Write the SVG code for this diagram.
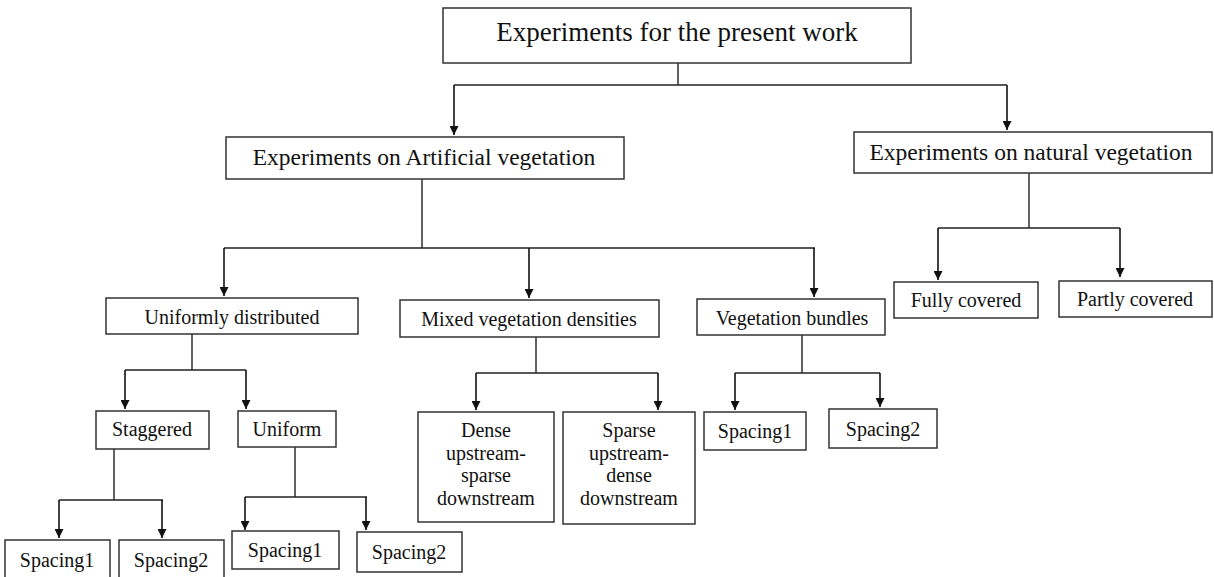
<svg xmlns="http://www.w3.org/2000/svg" width="1214" height="577" viewBox="0 0 1214 577">
<style>
.box{fill:#fff;stroke:#333;stroke-width:1.5}
.ln{fill:none;stroke:#222;stroke-width:1.4}
.ar{fill:none;stroke:#111;stroke-width:1.6;marker-end:url(#ah)}
text{font-family:"Liberation Serif","Times New Roman",serif;fill:#111;text-anchor:middle}
.t0{font-size:27px}
.t1{font-size:23.5px}
.t2{font-size:20px}
</style>
<defs>
<marker id="ah" viewBox="0 0 10 10" refX="10" refY="5" markerUnits="userSpaceOnUse" markerWidth="10" markerHeight="9" orient="auto">
<path d="M0,0 L10,5 L0,10 z" fill="#111"/>
</marker>
</defs>
<rect width="1214" height="577" fill="#fff"/>
<g id="connectors">
<path class="ln" d="M678,63 V85 M454,85 H1007"/>
<path class="ar" d="M454,85 V135"/>
<path class="ar" d="M1007,85 V130"/>
<path class="ln" d="M422,179 V248 M224,248 H815"/>
<path class="ar" d="M224,248 V296"/>
<path class="ar" d="M529,248 V298"/>
<path class="ar" d="M814,248 V297"/>
<path class="ln" d="M1029,173 V228 M938,228 H1120"/>
<path class="ar" d="M938,228 V280"/>
<path class="ar" d="M1120,228 V277"/>
<path class="ln" d="M192,334 V370 M125,370 H246"/>
<path class="ar" d="M125,370 V409"/>
<path class="ar" d="M246,370 V409"/>
<path class="ln" d="M536,337 V373 M476,373 H658"/>
<path class="ar" d="M476,373 V410"/>
<path class="ar" d="M658,373 V410"/>
<path class="ln" d="M802,335 V373 M735,373 H880"/>
<path class="ar" d="M735,373 V410"/>
<path class="ar" d="M880,373 V407"/>
<path class="ln" d="M114,449 V500 M59,500 H163"/>
<path class="ar" d="M59,500 V538"/>
<path class="ar" d="M162,500 V538"/>
<path class="ln" d="M295,447 V497 M245,497 H367"/>
<path class="ar" d="M245,497 V530"/>
<path class="ar" d="M366,497 V530"/>
</g>
<g id="n-top"><rect class="box" x="443" y="8" width="468" height="55"/><text class="t0" x="677" y="41">Experiments for the present work</text></g>
<g id="n-artificial"><rect class="box" x="226" y="137" width="398" height="42"/><text class="t1" x="424" y="165">Experiments on Artificial vegetation</text></g>
<g id="n-natural"><rect class="box" x="854" y="132" width="358" height="41"/><text class="t1" x="1031" y="160">Experiments on natural vegetation</text></g>
<g id="n-uniformly"><rect class="box" x="106" y="298" width="252" height="36"/><text class="t2" x="232" y="324">Uniformly distributed</text></g>
<g id="n-mixed"><rect class="box" x="400" y="300" width="259" height="37"/><text class="t2" x="529" y="326">Mixed vegetation densities</text></g>
<g id="n-bundles"><rect class="box" x="697" y="299" width="188" height="36"/><text class="t2" x="792" y="325">Vegetation bundles</text></g>
<g id="n-fully"><rect class="box" x="894" y="282" width="144" height="36"/><text class="t2" x="966" y="307">Fully covered</text></g>
<g id="n-partly"><rect class="box" x="1059" y="281" width="153" height="36"/><text class="t2" x="1135" y="306">Partly covered</text></g>
<g id="n-staggered"><rect class="box" x="96" y="411" width="113" height="38"/><text class="t2" x="152" y="436">Staggered</text></g>
<g id="n-uniform"><rect class="box" x="238" y="411" width="98" height="36"/><text class="t2" x="287" y="436">Uniform</text></g>
<g id="n-dense"><rect class="box" x="418" y="412" width="136" height="110"/><text class="t2" x="486" y="437">Dense</text><text class="t2" x="486" y="460">upstream-</text><text class="t2" x="486" y="482">sparse</text><text class="t2" x="486" y="505">downstream</text></g>
<g id="n-sparse"><rect class="box" x="563" y="412" width="132" height="112"/><text class="t2" x="629" y="437">Sparse</text><text class="t2" x="629" y="460">upstream-</text><text class="t2" x="629" y="482">dense</text><text class="t2" x="629" y="505">downstream</text></g>
<g id="n-b-spacing1"><rect class="box" x="704" y="412" width="102" height="38"/><text class="t2" x="755" y="438">Spacing1</text></g>
<g id="n-b-spacing2"><rect class="box" x="829" y="409" width="108" height="39"/><text class="t2" x="883" y="436">Spacing2</text></g>
<g id="n-s-spacing1"><rect class="box" x="5" y="540" width="105" height="45"/><text class="t2" x="57" y="567">Spacing1</text></g>
<g id="n-s-spacing2"><rect class="box" x="119" y="540" width="105" height="45"/><text class="t2" x="171" y="567">Spacing2</text></g>
<g id="n-u-spacing1"><rect class="box" x="232" y="531" width="107" height="38"/><text class="t2" x="285" y="557">Spacing1</text></g>
<g id="n-u-spacing2"><rect class="box" x="357" y="532" width="105" height="40"/><text class="t2" x="409" y="559">Spacing2</text></g>
</svg>
